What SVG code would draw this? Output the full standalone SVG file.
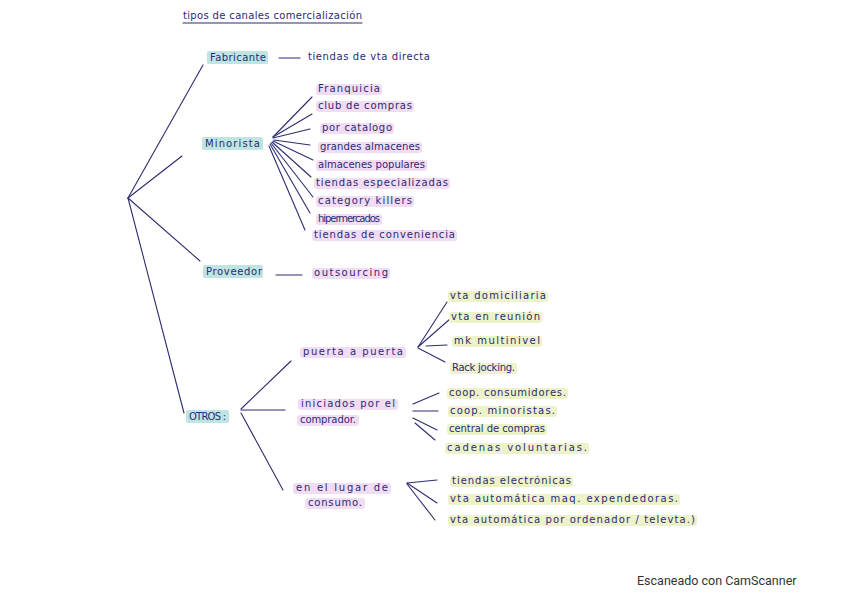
<svg xmlns="http://www.w3.org/2000/svg" width="848" height="599" viewBox="0 0 848 599">
<style>
text{font-family:"DejaVu Sans","Liberation Sans",Arial,sans-serif;font-size:10px;fill:#2a2a78}
.hl-t{fill:#bfe5e3}
.hl-p{fill:#f1dcf1}
.hl-y{fill:#eef2c9}
.c{stroke:#2d2d70;stroke-width:1.1;fill:none;stroke-linecap:round}
.foot{font-family:"Roboto","Liberation Sans",sans-serif;font-size:12.5px;fill:#333}
</style>
<rect width="848" height="599" fill="#ffffff"/>
<g id="title">
<text x="183" y="19" textLength="179" lengthAdjust="spacing">tipos de canales comercialización</text>
<line class="c" x1="183" y1="23" x2="362" y2="23"/>
</g>
<g id="connectors">
<line class="c" x1="128" y1="198" x2="203" y2="65"/>
<line class="c" x1="128" y1="198" x2="182" y2="156"/>
<line class="c" x1="128" y1="198" x2="200" y2="261"/>
<line class="c" x1="128" y1="198" x2="184" y2="413"/>
<line class="c" x1="279" y1="58" x2="300" y2="58"/>
<line class="c" x1="273" y1="137" x2="312" y2="97"/>
<line class="c" x1="273" y1="137" x2="312" y2="114"/>
<line class="c" x1="273" y1="138" x2="310" y2="129"/>
<line class="c" x1="274" y1="140" x2="310" y2="145"/>
<line class="c" x1="273" y1="141" x2="313" y2="160"/>
<line class="c" x1="272" y1="142" x2="311" y2="177"/>
<line class="c" x1="271" y1="143" x2="313" y2="197"/>
<line class="c" x1="270" y1="144" x2="310" y2="213"/>
<line class="c" x1="269" y1="146" x2="305" y2="230"/>
<line class="c" x1="276" y1="275" x2="302" y2="275"/>
<line class="c" x1="241" y1="409" x2="291" y2="361"/>
<line class="c" x1="241" y1="410" x2="285" y2="410"/>
<line class="c" x1="241" y1="413" x2="283" y2="490"/>
<line class="c" x1="418" y1="347" x2="447" y2="302"/>
<line class="c" x1="418" y1="347" x2="450" y2="319"/>
<line class="c" x1="426" y1="346" x2="447" y2="345"/>
<line class="c" x1="418" y1="348" x2="445" y2="362"/>
<line class="c" x1="413" y1="404" x2="439" y2="393"/>
<line class="c" x1="413" y1="411" x2="438" y2="411"/>
<line class="c" x1="413" y1="418" x2="437" y2="430"/>
<line class="c" x1="415" y1="423" x2="435" y2="440"/>
<line class="c" x1="407" y1="483" x2="437" y2="480"/>
<line class="c" x1="407" y1="483" x2="437" y2="503"/>
<line class="c" x1="407" y1="484" x2="435" y2="520"/>
</g>
<g id="fabricante">
<rect class="hl-t" x="207" y="51" width="61" height="13" rx="2"/>
<text x="210" y="61" textLength="56" lengthAdjust="spacing">Fabricante</text>
</g>
<g id="tiendas-vta-directa">
<text x="308" y="60" textLength="122" lengthAdjust="spacing">tiendas de vta directa</text>
</g>
<g id="minorista">
<rect class="hl-t" x="202" y="137" width="61" height="13" rx="2"/>
<text x="205" y="147" textLength="55" lengthAdjust="spacing">Minorista</text>
</g>
<g id="franquicia">
<rect class="hl-p" x="316" y="84" width="66" height="11" rx="3"/>
<text x="318" y="92" textLength="62" lengthAdjust="spacing">Franquicia</text>
</g>
<g id="club-compras">
<rect class="hl-p" x="316" y="101" width="98" height="11" rx="3"/>
<text x="318" y="109" textLength="94" lengthAdjust="spacing">club de compras</text>
</g>
<g id="por-catalogo">
<rect class="hl-p" x="320" y="123" width="74" height="11" rx="3"/>
<text x="322" y="131" textLength="70" lengthAdjust="spacing">por catalogo</text>
</g>
<g id="grandes-almacenes">
<rect class="hl-p" x="318" y="142" width="104" height="11" rx="3"/>
<text x="320" y="150" textLength="100" lengthAdjust="spacing">grandes almacenes</text>
</g>
<g id="almacenes-populares">
<rect class="hl-p" x="316" y="160" width="111" height="11" rx="3"/>
<text x="318" y="168" textLength="107" lengthAdjust="spacing">almacenes populares</text>
</g>
<g id="tiendas-especializadas">
<rect class="hl-p" x="314" y="178" width="136" height="11" rx="3"/>
<text x="316" y="186" textLength="132" lengthAdjust="spacing">tiendas especializadas</text>
</g>
<g id="category-killers">
<rect class="hl-p" x="316" y="196" width="98" height="11" rx="3"/>
<text x="318" y="204" textLength="94" lengthAdjust="spacing">category killers</text>
</g>
<g id="hipermercados">
<rect class="hl-p" x="316" y="214" width="66" height="11" rx="3"/>
<text x="318" y="222" textLength="62" lengthAdjust="spacing">hipermercados</text>
</g>
<g id="tiendas-conveniencia">
<rect class="hl-p" x="312" y="230" width="145" height="11" rx="3"/>
<text x="314" y="238" textLength="141" lengthAdjust="spacing">tiendas de conveniencia</text>
</g>
<g id="proveedor">
<rect class="hl-t" x="203" y="265" width="60" height="13" rx="2"/>
<text x="206" y="275" textLength="56" lengthAdjust="spacing">Proveedor</text>
</g>
<g id="outsourcing">
<rect class="hl-p" x="312" y="268" width="78" height="11" rx="3"/>
<text x="314" y="276" textLength="74" lengthAdjust="spacing">outsourcing</text>
</g>
<g id="otros">
<rect class="hl-t" x="186" y="410" width="43" height="13" rx="2"/>
<text x="189" y="420" textLength="37" lengthAdjust="spacing">OTROS :</text>
</g>
<g id="puerta-a-puerta">
<rect class="hl-p" x="300" y="347" width="106" height="11" rx="3"/>
<text x="303" y="355" textLength="100" lengthAdjust="spacing">puerta a puerta</text>
</g>
<g id="vta-domiciliaria">
<rect class="hl-y" x="448" y="291" width="100" height="11" rx="3"/>
<text x="450" y="299" textLength="96" lengthAdjust="spacing">vta domiciliaria</text>
</g>
<g id="vta-reunion">
<rect class="hl-y" x="449" y="312" width="93" height="11" rx="3"/>
<text x="451" y="320" textLength="89" lengthAdjust="spacing">vta en reunión</text>
</g>
<g id="mk-multinivel">
<rect class="hl-y" x="452" y="336" width="90" height="11" rx="3"/>
<text x="454" y="344" textLength="86" lengthAdjust="spacing">mk multinivel</text>
</g>
<g id="rack-jocking">
<rect class="hl-y" x="450" y="363" width="67" height="11" rx="3"/>
<text x="452" y="371" textLength="63" lengthAdjust="spacing">Rack jocking.</text>
</g>
<g id="iniciados-comprador">
<rect class="hl-p" x="298" y="399" width="100" height="11" rx="3"/>
<rect class="hl-p" x="297" y="415" width="62" height="11" rx="3"/>
<text x="301" y="407" textLength="94" lengthAdjust="spacing">iniciados por el</text>
<text x="300" y="423" textLength="56" lengthAdjust="spacing">comprador.</text>
</g>
<g id="coop-consumidores">
<rect class="hl-y" x="447" y="388" width="121" height="11" rx="3"/>
<text x="449" y="396" textLength="117" lengthAdjust="spacing">coop. consumidores.</text>
</g>
<g id="coop-minoristas">
<rect class="hl-y" x="448" y="406" width="109" height="11" rx="3"/>
<text x="450" y="414" textLength="105" lengthAdjust="spacing">coop. minoristas.</text>
</g>
<g id="central-compras">
<rect class="hl-y" x="447" y="424" width="100" height="11" rx="3"/>
<text x="449" y="432" textLength="96" lengthAdjust="spacing">central de compras</text>
</g>
<g id="cadenas-voluntarias">
<rect class="hl-y" x="445" y="443" width="144" height="11" rx="3"/>
<text x="447" y="451" textLength="140" lengthAdjust="spacing">cadenas voluntarias.</text>
</g>
<g id="lugar-consumo">
<rect class="hl-p" x="293" y="483" width="98" height="11" rx="3"/>
<rect class="hl-p" x="305" y="498" width="60" height="11" rx="3"/>
<text x="296" y="491" textLength="92" lengthAdjust="spacing">en el lugar de</text>
<text x="308" y="506" textLength="54" lengthAdjust="spacing">consumo.</text>
</g>
<g id="tiendas-electronicas">
<rect class="hl-y" x="450" y="476" width="123" height="11" rx="3"/>
<text x="452" y="484" textLength="119" lengthAdjust="spacing">tiendas electrónicas</text>
</g>
<g id="vta-maq-expendedoras">
<rect class="hl-y" x="448" y="494" width="232" height="11" rx="3"/>
<text x="450" y="502" textLength="228" lengthAdjust="spacing">vta automática maq. expendedoras.</text>
</g>
<g id="vta-ordenador">
<rect class="hl-y" x="448" y="515" width="249" height="11" rx="3"/>
<text x="450" y="523" textLength="245" lengthAdjust="spacing">vta automática por ordenador / televta.)</text>
</g>
<g id="footer">
<text class="foot" x="637" y="585">Escaneado con CamScanner</text>
</g>
</svg>
